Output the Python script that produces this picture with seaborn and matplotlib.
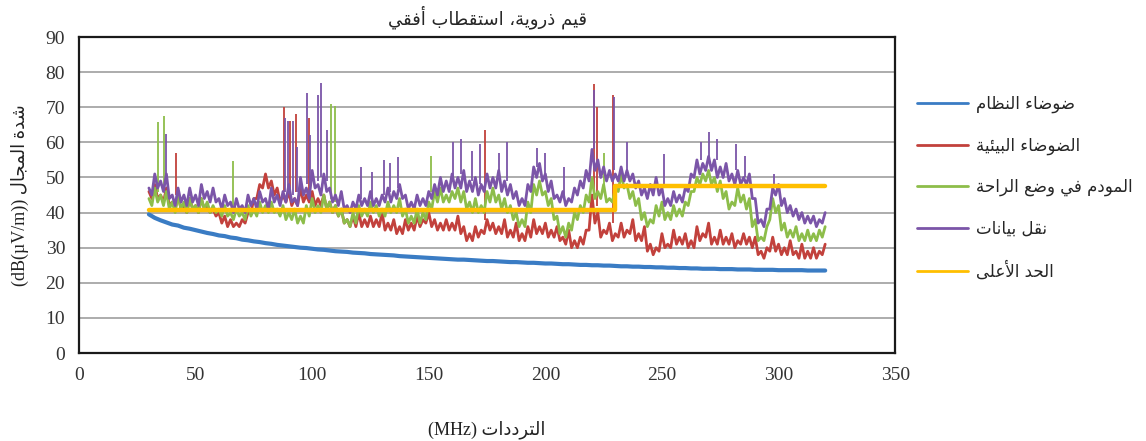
import numpy as np
import pandas as pd
import seaborn as sns
import matplotlib
matplotlib.use('Agg')
import matplotlib.pyplot as plt
from matplotlib.lines import Line2D

### data (frequency in MHz, level in dB(uV/m))
freq = [30, 32.5, 35, 37.5, 40, 42.5, 45, 47.5, 50, 52.5, 55, 57.5, 60, 62.5, 65, 67.5,
        70, 72.5, 75, 77.5, 80, 82.5, 85, 87.5, 90, 92.5, 95, 97.5, 100, 102.5, 105, 107.5,
        110, 112.5, 115, 117.5, 120, 122.5, 125, 127.5, 130, 132.5, 135, 137.5, 140, 142.5,
        145, 147.5, 150, 152.5, 155, 157.5, 160, 162.5, 165, 167.5, 170, 172.5, 175, 177.5,
        180, 182.5, 185, 187.5, 190, 192.5, 195, 197.5, 200, 202.5, 205, 207.5, 210, 212.5,
        215, 217.5, 220, 222.5, 225, 227.5, 230, 232.5, 235, 237.5, 240, 242.5, 245, 247.5,
        250, 252.5, 255, 257.5, 260, 262.5, 265, 267.5, 270, 272.5, 275, 277.5, 280, 282.5,
        285, 287.5, 290, 292.5, 295, 297.5, 300, 302.5, 305, 307.5, 310, 312.5, 315, 317.5, 320]
# half-way frequencies where the lower edge of the noise band was read
mid_freq = [(a + b) / 2 for a, b in zip(freq[:-1], freq[1:])]

system_noise = [39.5, 38.5, 37.8, 37.2, 36.6, 36.3, 35.7, 35.4, 35.0, 34.6, 34.2, 33.9, 33.5, 33.3, 32.9, 32.7,
                32.3, 32.1, 31.8, 31.6, 31.3, 31.1, 30.8, 30.6, 30.4, 30.2, 30.0, 29.9, 29.7, 29.5, 29.4, 29.2,
                29.0, 28.9, 28.8, 28.6, 28.5, 28.4, 28.2, 28.1, 28.0, 27.9, 27.8, 27.6, 27.5, 27.4,
                27.3, 27.2, 27.1, 27.0, 26.9, 26.8, 26.7, 26.6, 26.6, 26.5, 26.4, 26.3, 26.2, 26.2,
                26.1, 26.0, 25.9, 25.9, 25.8, 25.7, 25.7, 25.6, 25.5, 25.5, 25.4, 25.3, 25.3, 25.2,
                25.1, 25.1, 25.0, 25.0, 24.9, 24.9, 24.8, 24.7, 24.7, 24.6, 24.6, 24.5, 24.5, 24.4,
                24.4, 24.3, 24.3, 24.2, 24.2, 24.1, 24.1, 24.0, 24.0, 24.0, 23.9, 23.9, 23.9, 23.8,
                23.8, 23.8, 23.7, 23.7, 23.7, 23.7, 23.6, 23.6, 23.6, 23.6, 23.6, 23.5, 23.5, 23.5, 23.5]

ambient = [46, 48, 45, 47, 43, 45, 42, 44, 42, 44, 42, 41, 40, 39, 38, 37,
           38, 40, 44, 48, 51, 49, 47, 45, 46, 44, 47, 45, 46, 44, 45, 43,
           42, 41, 38, 39, 40, 38, 39, 38, 40, 37, 38, 36, 38, 37,
           39, 38, 40, 38, 37, 38, 37, 39, 36, 34, 36, 35, 38, 37,
           36, 38, 35, 37, 34, 36, 38, 36, 37, 35, 36, 33, 35, 32,
           33, 35, 45, 40, 35, 37, 34, 37, 35, 38, 34, 36, 31, 30,
           34, 31, 35, 33, 34, 32, 36, 34, 37, 33, 35, 33, 34, 32,
           34, 33, 33, 29, 30, 33, 31, 30, 32, 29, 31, 29, 30, 29, 31]
ambient_dip = [44, 44, 43, 42, 41, 41, 40, 41, 40, 41, 40, 39, 37, 36, 36, 36,
               37, 40, 44, 47, 47, 45, 43, 43, 42, 42, 43, 43, 42, 42, 41, 40,
               39, 37, 36, 36, 36, 36, 36, 36, 35, 35, 34, 34, 35, 35,
               36, 37, 36, 35, 35, 35, 35, 34, 32, 32, 33, 34, 35, 34,
               34, 33, 33, 32, 32, 33, 34, 34, 33, 33, 32, 31, 30, 30,
               31, 35, 37, 33, 34, 32, 33, 33, 34, 32, 32, 29, 28, 29,
               30, 30, 31, 31, 30, 30, 32, 33, 31, 31, 31, 31, 30, 31,
               31, 30, 28, 27, 29, 29, 28, 28, 28, 27, 27, 27, 27, 28]

modem_idle = [44, 47, 45, 46, 43, 45, 43, 44, 42, 44, 43, 42, 41, 42, 40, 41,
              40, 42, 41, 43, 42, 43, 41, 42, 40, 41, 39, 42, 44, 42, 45, 43,
              42, 41, 38, 40, 42, 41, 43, 42, 41, 43, 42, 44, 41, 39,
              41, 40, 43, 46, 47, 45, 46, 47, 46, 43, 44, 42, 46, 47,
              45, 44, 42, 40, 38, 43, 48, 49, 46, 44, 39, 36, 37, 40,
              42, 45, 50, 46, 48, 44, 47, 51, 48, 46, 44, 40, 38, 42,
              43, 40, 42, 41, 43, 46, 50, 51, 52, 50, 49, 46, 43, 47,
              45, 44, 38, 33, 36, 44, 42, 37, 35, 36, 34, 35, 34, 35, 36]
modem_dip = [42, 43, 42, 41, 40, 41, 40, 41, 40, 41, 40, 40, 39, 39, 38, 39,
             38, 39, 39, 40, 40, 40, 39, 38, 38, 37, 37, 39, 40, 40, 41, 40,
             39, 37, 36, 37, 39, 39, 40, 39, 39, 40, 40, 39, 37, 37,
             37, 38, 41, 43, 43, 43, 44, 43, 41, 40, 40, 40, 43, 43,
             41, 40, 38, 36, 36, 40, 45, 45, 42, 38, 34, 33, 35, 38,
             40, 43, 44, 44, 43, 43, 46, 47, 44, 42, 38, 36, 37, 39,
             38, 38, 39, 39, 42, 46, 48, 49, 48, 46, 44, 41, 42, 43,
             41, 36, 32, 32, 38, 40, 35, 33, 33, 32, 32, 32, 32, 33]

data_transfer = [47, 51, 49, 51, 45, 47, 45, 47, 45, 48, 46, 47, 44, 45, 43, 44,
                 42, 45, 44, 46, 44, 47, 45, 46, 48, 44, 50, 47, 52, 48, 51, 47,
                 45, 46, 42, 43, 45, 44, 46, 44, 45, 47, 46, 48, 45, 43,
                 45, 44, 46, 48, 50, 49, 51, 50, 52, 49, 50, 48, 51, 50,
                 52, 49, 48, 46, 44, 48, 53, 54, 51, 49, 45, 46, 44, 47,
                 49, 52, 58, 55, 53, 52, 51, 53, 52, 51, 49, 47, 48, 50,
                 47, 44, 46, 45, 47, 51, 55, 54, 56, 55, 53, 54, 51, 52,
                 50, 51, 44, 38, 41, 47, 48, 44, 42, 41, 40, 39, 39, 38, 40]
data_dip = [45, 47, 46, 44, 42, 43, 42, 43, 42, 44, 43, 43, 41, 42, 40, 41,
            40, 42, 41, 43, 41, 43, 42, 43, 43, 42, 45, 44, 47, 45, 46, 43,
            42, 41, 40, 41, 42, 42, 42, 42, 43, 43, 44, 44, 41, 41,
            42, 42, 44, 45, 46, 46, 47, 47, 46, 46, 45, 46, 47, 47,
            46, 45, 44, 42, 42, 46, 50, 49, 46, 44, 43, 42, 43, 45,
            47, 49, 52, 50, 49, 49, 49, 49, 49, 47, 45, 44, 45, 45,
            42, 42, 43, 43, 46, 50, 51, 52, 52, 50, 50, 49, 48, 48,
            48, 44, 37, 36, 41, 45, 42, 40, 39, 38, 37, 37, 36, 37]

limit_freq = [30, 230, 230, 320]
limit_level = [40.7, 40.7, 47.6, 47.6]

# narrow peaks: frequency, foot, top
ambient_spk_f = [41.8, 88.0, 90.5, 93.0, 98.5, 174.0, 220.8, 222.0, 229.0]
ambient_spk_lo = [45, 46, 46, 46, 45, 38, 45, 42, 37]
ambient_spk_hi = [57, 70, 66, 68, 67, 63.5, 76.7, 70, 73.5]

modem_spk_f = [34.0, 36.4, 66.0, 108.0, 109.6, 151.0, 225.0]
modem_spk_lo = [46, 46, 41, 44, 43, 46, 47]
modem_spk_hi = [65.7, 67.6, 54.8, 71, 70.5, 56, 57]

data_spk_f = [37.5, 88.3, 89.7, 91.6, 93.3, 97.6, 99.0, 102.5, 104.0, 106.5, 121.0, 125.5,
              131.0, 133.4, 137.0, 160.5, 164.0, 168.4, 172.0, 180.0, 183.6, 196.5, 200.0,
              208.0, 221.0, 229.4, 235.0, 251.0, 266.7, 270.3, 273.8, 281.7, 285.5, 298.0]
data_spk_lo = [49, 46, 46, 45, 46, 48, 48, 49, 50, 49, 44, 44,
               45, 46, 47, 50, 51, 49, 48, 51, 49, 53, 51,
               45, 58, 52, 52, 47, 55, 56, 55, 52, 50, 47]
data_spk_hi = [62.4, 67, 66, 66, 58.6, 74, 62, 73.5, 77, 63.5, 53, 51.5,
               55, 54, 55.7, 60, 61, 57.6, 59.5, 57, 60, 58.4, 57,
               53, 75, 73, 60, 56.7, 60, 63, 61, 59.5, 56, 51]

x_ticks = [0, 50, 100, 150, 200, 250, 300, 350]
y_ticks = [0, 10, 20, 30, 40, 50, 60, 70, 80, 90]

title_txt = 'قيم ذروية، استقطاب أفقي'
ylab_txt = 'شدة المجال'
xlab_txt = 'الترددات'
names = ['ضوضاء النظام', 'الضوضاء البيئية', 'المودم في وضع الراحة', 'نقل بيانات', 'الحد الأعلى']
colors = ['#3a7cc4', '#c2413c', '#8dbd4a', '#7b55a8', '#ffbf00']


### matplotlib has no arabic shaping, so pick presentation forms by hand
FORMS = {
    'ا': (0xFE8D, 0xFE8E, None, None), 'أ': (0xFE83, 0xFE84, None, None),
    'ب': (0xFE8F, 0xFE90, 0xFE91, 0xFE92), 'ة': (0xFE93, 0xFE94, None, None),
    'ت': (0xFE95, 0xFE96, 0xFE97, 0xFE98), 'ج': (0xFE9D, 0xFE9E, 0xFE9F, 0xFEA0),
    'ح': (0xFEA1, 0xFEA2, 0xFEA3, 0xFEA4), 'د': (0xFEA9, 0xFEAA, None, None),
    'ذ': (0xFEAB, 0xFEAC, None, None), 'ر': (0xFEAD, 0xFEAE, None, None),
    'س': (0xFEB1, 0xFEB2, 0xFEB3, 0xFEB4), 'ش': (0xFEB5, 0xFEB6, 0xFEB7, 0xFEB8),
    'ض': (0xFEBD, 0xFEBE, 0xFEBF, 0xFEC0), 'ط': (0xFEC1, 0xFEC2, 0xFEC3, 0xFEC4),
    'ظ': (0xFEC5, 0xFEC6, 0xFEC7, 0xFEC8), 'ع': (0xFEC9, 0xFECA, 0xFECB, 0xFECC),
    'ف': (0xFED1, 0xFED2, 0xFED3, 0xFED4), 'ق': (0xFED5, 0xFED6, 0xFED7, 0xFED8),
    'ل': (0xFEDD, 0xFEDE, 0xFEDF, 0xFEE0), 'م': (0xFEE1, 0xFEE2, 0xFEE3, 0xFEE4),
    'ن': (0xFEE5, 0xFEE6, 0xFEE7, 0xFEE8), 'و': (0xFEED, 0xFEEE, None, None),
    'ى': (0xFEEF, 0xFEF0, None, None), 'ي': (0xFEF1, 0xFEF2, 0xFEF3, 0xFEF4),
    'ئ': (0xFE89, 0xFE8A, 0xFE8B, 0xFE8C), 'ء': (0xFE80, None, None, None),
}
LAM_ALEF = {'ا': (0xFEFB, 0xFEFC), 'أ': (0xFEF7, 0xFEF8)}


def shape(s):
    toks = []
    i = 0
    while i < len(s):
        if s[i] == 'ل' and i + 1 < len(s) and s[i + 1] in LAM_ALEF:
            toks.append(('LA', s[i + 1]))
            i += 2
        else:
            toks.append(s[i])
            i += 1

    def joins_prev(t):
        if isinstance(t, tuple):
            return True
        return t in FORMS and FORMS[t][1] is not None

    def joins_next(t):
        return (not isinstance(t, tuple)) and t in FORMS and FORMS[t][2] is not None

    out = []
    for k, t in enumerate(toks):
        p = k > 0 and joins_next(toks[k - 1]) and joins_prev(t)
        n = k < len(toks) - 1 and joins_next(t) and joins_prev(toks[k + 1])
        if isinstance(t, tuple):
            out.append(chr(LAM_ALEF[t[1]][1 if p else 0]))
        elif t in FORMS:
            f = FORMS[t]
            idx = 3 if (p and n) else 1 if p else 2 if n else 0
            out.append(chr(f[idx]))
        else:
            out.append(t)
    return ''.join(out[::-1])


def band(top, dip):
    # peaks on the main grid, troughs in between -> one jagged trace
    return pd.DataFrame({'f': freq + mid_freq, 'v': top + dip}).sort_values('f')


sns.set_style('white')
plt.rcParams['font.family'] = ['Liberation Serif', 'DejaVu Sans']

fig = plt.figure(figsize=(11.46, 4.41), dpi=100)
ax = fig.add_axes([0.0689, 0.1995, 0.7122, 0.7165])

sns.lineplot(x=freq, y=system_noise, ax=ax, color=colors[0], lw=3.0, zorder=2)

d = band(ambient, ambient_dip)
sns.lineplot(data=d, x='f', y='v', ax=ax, color=colors[1], lw=2.0, zorder=3, estimator=None)
ax.vlines(ambient_spk_f, ambient_spk_lo, ambient_spk_hi, color=colors[1], lw=1.3, zorder=3)

d = band(modem_idle, modem_dip)
sns.lineplot(data=d, x='f', y='v', ax=ax, color=colors[2], lw=2.0, zorder=4, estimator=None)
ax.vlines(modem_spk_f, modem_spk_lo, modem_spk_hi, color=colors[2], lw=1.3, zorder=4)

d = band(data_transfer, data_dip)
sns.lineplot(data=d, x='f', y='v', ax=ax, color=colors[3], lw=2.0, zorder=5, estimator=None)
ax.vlines(data_spk_f, data_spk_lo, data_spk_hi, color=colors[3], lw=1.3, zorder=5)

sns.lineplot(x=limit_freq, y=limit_level, ax=ax, color=colors[4], lw=3.2, zorder=6,
             sort=False, estimator=None)

ax.set_xlim(0, 350)
ax.set_ylim(0, 90)
ax.set_xticks(x_ticks)
ax.set_yticks(y_ticks)
ax.yaxis.grid(True, color='#a6a6a6', lw=1.3)
ax.set_axisbelow(True)
for sp in ax.spines.values():
    sp.set_color('#1a1a1a')
    sp.set_linewidth(1.6)
ax.tick_params(axis='both', which='both', direction='out', length=4, width=1,
               color='#999999', labelsize=14, labelcolor='#333333', pad=6)

ax.set_title(shape(title_txt), fontsize=13, family='DejaVu Sans', pad=9)
ax.set_xlabel('(MHz) ' + shape(xlab_txt), fontsize=13, labelpad=26, color='#222222')
ax.set_ylabel('(dB(µV/m)) ' + shape(ylab_txt), fontsize=13, labelpad=12, color='#222222')

handles = [Line2D([], [], color=c, lw=2) for c in colors]
fig.legend(handles, [shape(t) for t in names], loc='upper left',
           bbox_to_anchor=(0.8, 0.785), frameon=False, borderpad=0, borderaxespad=0,
           handlelength=3.05, handletextpad=0.5, labelspacing=1.4,
           prop={'family': 'DejaVu Sans', 'size': 12})

plt.savefig('out.png', dpi=100)
